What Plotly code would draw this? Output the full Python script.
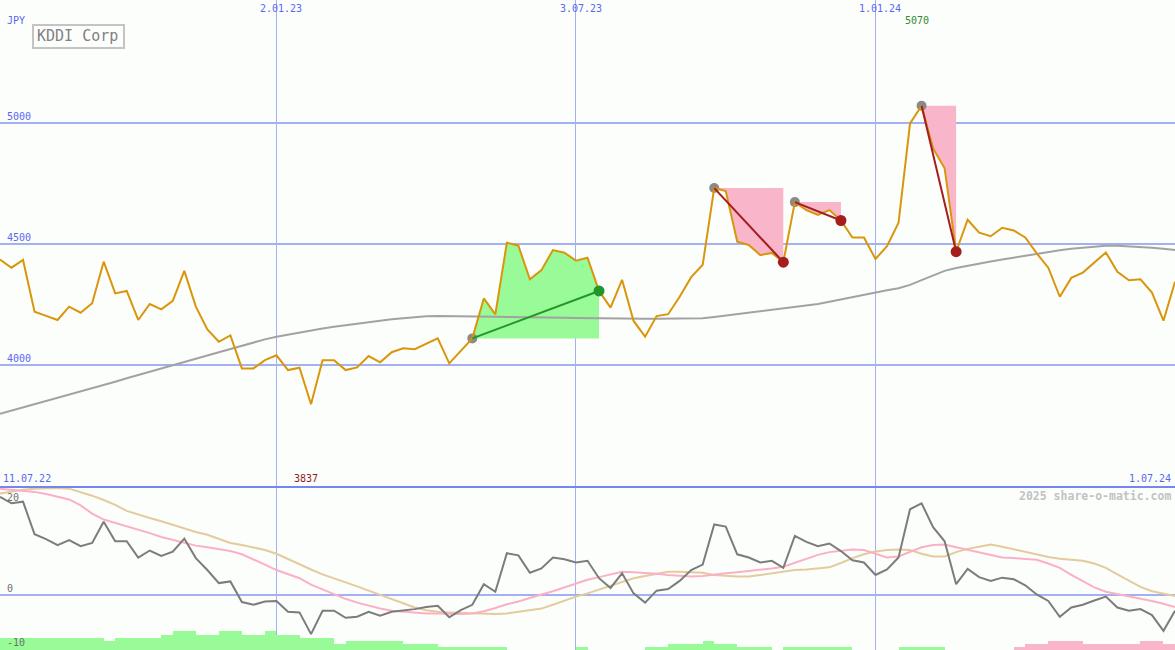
import plotly.graph_objects as go
import pandas as pd

W, H = 1175, 650

# ---------------- data ----------------
dates = pd.date_range("2022-07-18", periods=103, freq="7D")

price = [4435, 4401, 4433, 4219, 4202, 4185, 4240, 4215, 4254, 4426,
         4295, 4305, 4185, 4251, 4229, 4264, 4388, 4240, 4146, 4095,
         4121, 3985, 3985, 4019, 4039, 3978, 3988, 3837, 4019, 4019,
         3978, 3989, 4036, 4010, 4052, 4068, 4064, 4086, 4109, 4006,
         4057, 4109, 4274, 4208, 4504, 4492, 4353, 4391, 4474, 4463,
         4430, 4442, 4305, 4236, 4351, 4181, 4116, 4201, 4209, 4281,
         4362, 4413, 4730, 4718, 4508, 4495, 4453, 4462, 4424, 4672,
         4639, 4619, 4639, 4596, 4526, 4526, 4437, 4490, 4587, 4997,
         5070, 4894, 4812, 4467, 4599, 4546, 4531, 4566, 4555, 4526,
         4460, 4401, 4281, 4359, 4381, 4421, 4464, 4384, 4349, 4353,
         4298, 4182, 4343]

ma = [3797, 3810, 3824, 3837, 3850, 3864, 3877, 3890, 3903, 3917,
      3930, 3944, 3957, 3971, 3984, 3998, 4011, 4025, 4038, 4052,
      4066, 4080, 4093, 4105, 4116, 4125, 4134, 4142, 4150, 4157,
      4164, 4170, 4176, 4182, 4188, 4193, 4197, 4200, 4201, 4201,
      4200, 4200, 4199, 4198, 4197, 4197, 4196, 4196, 4195, 4194,
      4193, 4192, 4192, 4191, 4191, 4190, 4190, 4190, 4190, 4190,
      4190, 4192, 4197, 4203, 4208, 4213, 4218, 4224, 4230, 4236,
      4243, 4251, 4260, 4270, 4281, 4290, 4300, 4308, 4316, 4330,
      4350, 4370, 4388, 4400, 4410, 4419, 4427, 4435, 4443, 4451,
      4459, 4466, 4473, 4479, 4484, 4489, 4492, 4492, 4490, 4487,
      4483, 4479, 4474]

osc = [18.1, 16.9, 17.2, 11.2, 10.3, 9.2, 10.1, 9.0, 9.6, 13.5,
       9.9, 9.9, 6.9, 8.2, 7.2, 8.0, 10.4, 6.8, 4.6, 2.2,
       2.5, -1.3, -1.8, -1.2, -1.1, -3.1, -3.2, -7.2, -2.9, -2.9,
       -4.2, -4.0, -3.1, -3.8, -3.1, -2.9, -2.6, -2.2, -2.0, -4.1,
       -2.8, -1.8, 2.0, 0.6, 7.7, 7.3, 4.1, 4.9, 6.9, 6.6,
       6.0, 6.3, 3.1, 1.3, 4.0, 0.3, -1.4, 0.8, 1.1, 2.6,
       4.6, 5.6, 13.0, 12.6, 7.5, 6.9, 6.0, 6.3, 5.0, 10.9,
       9.8, 9.0, 9.5, 8.1, 6.4, 6.0, 3.7, 4.7, 6.9, 15.8,
       16.9, 12.5, 9.9, 2.0, 4.8, 3.3, 2.6, 3.2, 2.9, 1.8,
       0.1, -1.1, -4.0, -2.3, -1.8, -1.0, -0.3, -2.3, -2.9, -2.6,
       -3.7, -6.6, -2.9]

osc_fast = [19.6, 19.4, 19.2, 19.0, 18.6, 18.1, 17.6, 16.5, 15.0, 13.9,
            13.3, 12.6, 12.1, 11.4, 10.7, 10.2, 9.6, 9.1, 8.8, 8.4,
            8.1, 7.5, 6.6, 5.6, 4.6, 3.8, 3.1, 1.9, 1.0, 0.1,
            -0.7, -1.4, -2.0, -2.5, -2.9, -3.1, -3.3, -3.4, -3.4, -3.5,
            -3.5, -3.4, -3.0, -2.4, -1.7, -1.2, -0.5, 0.1, 0.7, 1.4,
            2.1, 2.8, 3.3, 3.8, 4.3, 4.2, 4.1, 3.9, 3.7, 3.5,
            3.4, 3.5, 3.8, 4.0, 4.2, 4.4, 4.6, 4.9, 5.2, 5.9,
            6.7, 7.4, 7.9, 8.2, 8.4, 8.3, 7.6, 6.9, 7.1, 8.0,
            8.8, 9.2, 9.3, 8.8, 8.3, 7.8, 7.3, 6.9, 6.8, 6.7,
            6.5, 5.8, 5.0, 3.7, 2.6, 1.4, 0.6, 0.2, -0.3, -0.7,
            -1.1, -1.6, -2.2]

osc_slow = [18.7, 19.1, 19.4, 19.6, 19.7, 19.7, 19.6, 19.0, 18.3, 17.5,
            16.6, 15.5, 14.8, 14.2, 13.6, 12.9, 12.2, 11.6, 11.1, 10.4,
            9.6, 9.2, 8.7, 8.3, 7.6, 6.6, 5.6, 4.7, 3.8, 3.1,
            2.3, 1.6, 0.8, 0.0, -0.8, -1.6, -2.3, -2.8, -3.1, -3.2,
            -3.3, -3.4, -3.5, -3.5, -3.4, -3.1, -2.8, -2.5, -1.8, -1.0,
            -0.3, 0.3, 1.0, 1.7, 2.4, 3.1, 3.5, 3.9, 4.3, 4.3,
            4.2, 4.1, 3.7, 3.5, 3.4, 3.4, 3.7, 4.1, 4.4, 4.6,
            4.7, 4.9, 5.1, 5.9, 6.8, 7.5, 8.0, 8.3, 8.4, 8.3,
            7.6, 7.1, 7.1, 7.9, 8.5, 8.9, 9.3, 8.9, 8.4, 7.9,
            7.4, 7.0, 6.7, 6.5, 6.3, 5.8, 5.0, 3.8, 2.7, 1.5,
            0.7, 0.2, -0.2]

# weekly signal strength (positive = green, negative = pink)
strength = [4, 4, 4, 4, 4, 4, 4, 4, 4, 3,
            4, 4, 4, 4, 5, 6, 6, 5, 5, 6,
            6, 5, 5, 6, 5, 5, 4, 4, 4, 2,
            3, 3, 3, 3, 3, 2, 2, 2, 1, 1,
            1, 1, 1, 1, 0, 0, 0, 0, 0, 0,
            1, 0, 0, 0, 0, 0, 1, 1, 2, 2,
            2, 3, 2, 2, 1, 1, 1, 0, 1, 1,
            1, 1, 1, 1, 0, 0, 0, 0, 1, 1,
            1, 1, 0, 0, 0, 0, 0, 0, -1, -2,
            -2, -3, -3, -3, -2, -2, -2, -2, -2, -3,
            -3, -2]

# trend segments (index of start week, index of end week, direction)
seg_start = [41, 62, 69, 80]
seg_end = [52, 68, 73, 83]
seg_dir = ["up", "down", "down", "down"]

grid_dates = ["2023-01-02", "2023-07-03", "2024-01-01"]
grid_labels = ["2.01.23", "3.07.23", "1.01.24"]
price_ticks = [4000, 4500, 5000]
first_label, last_label = "11.07.22", "1.07.24"

# ---------------- styling ----------------
FONT = "DejaVu Sans Mono"
BG = "#fcfefc"
GRID = "#a3b0f2"
BLUE_TXT = "#5a68f0"
PRICE_C = "#d9960b"
MA_C = "#a2a2a2"
UP_FILL = "#98fb98"
DN_FILL = "#f9b6ca"
UP_LINE = "#22962a"
DN_LINE = "#a51e1e"

def py(y):
    return 1 - y / H

split = 163 / H

fig = go.Figure()

# bars in lower panel
bar_x = [d + pd.Timedelta(days=3.5) for d in dates[:-1]]
fig.add_trace(go.Bar(
    x=bar_x, y=[abs(v) for v in strength],
    marker=dict(color=[UP_FILL if v >= 0 else DN_FILL for v in strength],
                line=dict(width=0)),
    width=7 * 86400000, xaxis="x2", yaxis="y3", hoverinfo="skip"))

# trend fills
for s, e, d in zip(seg_start, seg_end, seg_dir):
    xs = list(dates[s:e + 1]) + [dates[e], dates[s]]
    ys = price[s:e + 1] + [price[s], price[s]]
    fig.add_trace(go.Scatter(x=xs, y=ys, fill="toself", mode="none",
                             fillcolor=UP_FILL if d == "up" else DN_FILL,
                             hoverinfo="skip"))

# moving average & price
fig.add_trace(go.Scatter(x=dates, y=ma, mode="lines",
                         line=dict(color=MA_C, width=2), hoverinfo="skip"))
for s in seg_start:
    fig.add_trace(go.Scatter(x=[dates[s]], y=[price[s]], mode="markers",
                             marker=dict(color="#8a8a8a", size=10), hoverinfo="skip"))
fig.add_trace(go.Scatter(x=dates, y=price, mode="lines",
                         line=dict(color=PRICE_C, width=2), hoverinfo="skip"))

# trend lines and end dots
for s, e, d in zip(seg_start, seg_end, seg_dir):
    c = UP_LINE if d == "up" else DN_LINE
    fig.add_trace(go.Scatter(x=[dates[s], dates[e]], y=[price[s], price[e]],
                             mode="lines", line=dict(color=c, width=2),
                             hoverinfo="skip"))
    fig.add_trace(go.Scatter(x=[dates[e]], y=[price[e]], mode="markers",
                             marker=dict(color=c, size=11), hoverinfo="skip"))

# oscillators
fig.add_trace(go.Scatter(x=dates, y=osc_slow, mode="lines", xaxis="x2", yaxis="y2",
                         line=dict(color="#e3cb9c", width=2), hoverinfo="skip"))
fig.add_trace(go.Scatter(x=dates, y=osc_fast, mode="lines", xaxis="x2", yaxis="y2",
                         line=dict(color="#fbb0c6", width=2), hoverinfo="skip"))
fig.add_trace(go.Scatter(x=dates, y=osc, mode="lines", xaxis="x2", yaxis="y2",
                         line=dict(color="#7c7c7c", width=2), hoverinfo="skip"))

xcommon = dict(type="date", range=[dates[0], dates[-1]], tickvals=grid_dates,
               showgrid=True, gridcolor=GRID, gridwidth=1, showticklabels=False,
               zeroline=False, showline=False, ticks="", fixedrange=True)

fig.update_layout(
    width=W, height=H, margin=dict(l=0, r=0, t=0, b=0),
    paper_bgcolor=BG, plot_bgcolor=BG, showlegend=False, bargap=0,
    hovermode=False,
    xaxis=dict(domain=[0, 1], anchor="y", **xcommon),
    xaxis2=dict(domain=[0, 1], anchor="y2", matches="x", **xcommon),
    yaxis=dict(domain=[split, 1], range=[3495, 5507], tickvals=price_ticks,
               showgrid=True, gridcolor=GRID, gridwidth=2, showticklabels=False,
               zeroline=False, ticks="", fixedrange=True),
    yaxis2=dict(domain=[0, split], range=[-10.13, 19.9], tickvals=[0],
                showgrid=True, gridcolor=GRID, gridwidth=2, showticklabels=False,
                zeroline=False, ticks="", fixedrange=True),
    yaxis3=dict(overlaying="y2", range=[0, 52.6], visible=False, fixedrange=True),
)

shapes = [
    dict(type="line", xref="paper", yref="paper", x0=0, x1=1, y0=split, y1=split,
         line=dict(color="#7686f0", width=2)),
    dict(type="rect", xref="paper", yref="paper", x0=33 / W, x1=124 / W,
         y0=py(48), y1=py(25), line=dict(color="#c4c4c4", width=2)),
]
fig.update_layout(shapes=shapes)

ann = []
def txt(text, x, y, xref="paper", yref="paper", xanchor="left", color=BLUE_TXT,
        size=10, xshift=0, yshift=0):
    ann.append(dict(text=text, x=x, y=y, xref=xref, yref=yref, xanchor=xanchor,
                    yanchor="middle", showarrow=False, xshift=xshift, yshift=yshift,
                    font=dict(family=FONT, size=size, color=color)))

txt("JPY", 5 / W, py(21))
for v in price_ticks:
    txt(str(v), 5 / W, v, yref="y", yshift=6)
for d, lab in zip(grid_dates, grid_labels):
    txt(lab, d, py(9), xref="x", xanchor="center", xshift=5)
imax = max(range(len(price)), key=lambda i: price[i])
imin = min(range(len(price)), key=lambda i: price[i])
txt(str(price[imax]), dates[imax], py(21), xref="x", xanchor="center",
    color="#2e8a2e", xshift=-5)
txt(str(price[imin]), dates[imin], py(478.5), xref="x", xanchor="center",
    color="#8e1c1c", xshift=-5)
txt(first_label, 1 / W, py(478.5))
txt(last_label, 1173 / W, py(478.5), xanchor="right")
txt("<b>2025 share-o-matic.com</b>", 1173 / W, py(496), xanchor="right",
    color="#c2c2c2", size=11.5)
txt("20", 5 / W, py(497), color="#707070")
txt("0", 5 / W, py(588.5), color="#707070")
txt("-10", 5 / W, py(642), color="#707070")
txt("KDDI Corp", 78 / W, py(36.5), xanchor="center", color="#808080", size=15)
fig.update_layout(annotations=ann)

fig.write_html("out.html", config={"displayModeBar": False, "staticPlot": True},
               post_script="document.body.style.margin='0';document.body.style.overflow='hidden';")
